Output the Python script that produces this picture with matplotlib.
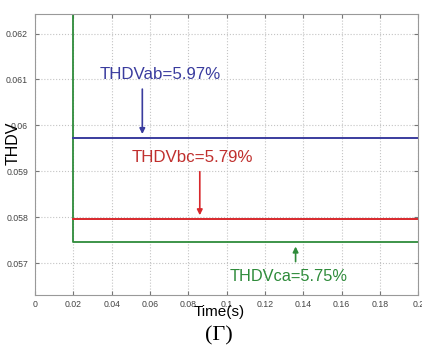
import matplotlib.pyplot as plt

# series values
t_start = 0.02
t_end = 0.2
thdv_ab = 0.05972
thdv_bc = 0.05795
thdv_ca = 0.05745
green_spike = 0.0630

x_ticks = [0, 0.02, 0.04, 0.06, 0.08, 0.1, 0.12, 0.14, 0.16, 0.18, 0.2]
x_tick_labels = ["0", "0.02", "0.04", "0.06", "0.08", "0.1", "0.12", "0.14", "0.16", "0.18", "0.2"]
y_ticks = [0.057, 0.058, 0.059, 0.060, 0.061, 0.062]
y_tick_labels = ["0.057", "0.058", "0.059", "0.06", "0.061", "0.062"]

labels = ["THDVab=5.97%", "THDVbc=5.79%", "THDVca=5.75%"]

BLUE = "#3a3c9e"
RED = "#d8282c"
GREEN = "#2e8b3a"

plt.rcParams['font.family'] = ['Liberation Sans', 'DejaVu Sans']

fig = plt.figure(figsize=(4.22, 3.46), dpi=100)
ax = fig.add_axes([0.083, 0.147, 0.908, 0.813])

ax.plot([t_start, t_start, t_end], [green_spike, thdv_ca, thdv_ca], color=GREEN, lw=1.3)
ax.plot([t_start, t_end], [thdv_ab, thdv_ab], color=BLUE, lw=1.4)
ax.plot([t_start, t_end], [thdv_bc, thdv_bc], color=RED, lw=1.4)

ax.set_xlim(0, 0.2)
ax.set_ylim(0.0563, 0.06243)
ax.set_xticks(x_ticks)
ax.set_xticklabels(x_tick_labels)
ax.set_yticks(y_ticks)
ax.set_yticklabels(y_tick_labels)
ax.tick_params(labelsize=6.3, direction="in", length=3, color="#777777", labelcolor="#444444",
               top=True, right=True, pad=5)
ax.tick_params(axis="x", pad=3.5)
ax.grid(True, linestyle=":", color="#c4c4c4", lw=0.8)
for s in ax.spines.values():
    s.set_color("#999999")

# annotations
ax.annotate("", xy=(0.056, thdv_ab + 0.00003), xytext=(0.056, 0.06085),
            arrowprops=dict(arrowstyle="-|>", color=BLUE, lw=1.2, mutation_scale=8))
ax.text(0.0338, 0.0611, labels[0], color=BLUE, fontsize=12.2, va="center")

ax.annotate("", xy=(0.086, thdv_bc + 0.00003), xytext=(0.086, 0.05905),
            arrowprops=dict(arrowstyle="-|>", color=RED, lw=1.2, mutation_scale=8))
ax.text(0.0505, 0.0593, labels[1], color="#c0302e", fontsize=12.2, va="center")

ax.annotate("", xy=(0.136, thdv_ca - 0.00003), xytext=(0.136, 0.05697),
            arrowprops=dict(arrowstyle="-|>", color=GREEN, lw=1.2, mutation_scale=8))
ax.text(0.1018, 0.0567, labels[2], color=GREEN, fontsize=11.8, va="center")

fig.text(0.031, 0.587, "THDV", fontsize=11.5, rotation=90, ha="center", va="center")
fig.text(0.52, 0.098, "Time(s)", fontsize=11, ha="center", va="center")
fig.text(0.519, 0.03, "(Г)", fontsize=16, ha="center", va="center",
         family=["Liberation Serif", "DejaVu Serif"])

fig.savefig("out.png", dpi=100)
